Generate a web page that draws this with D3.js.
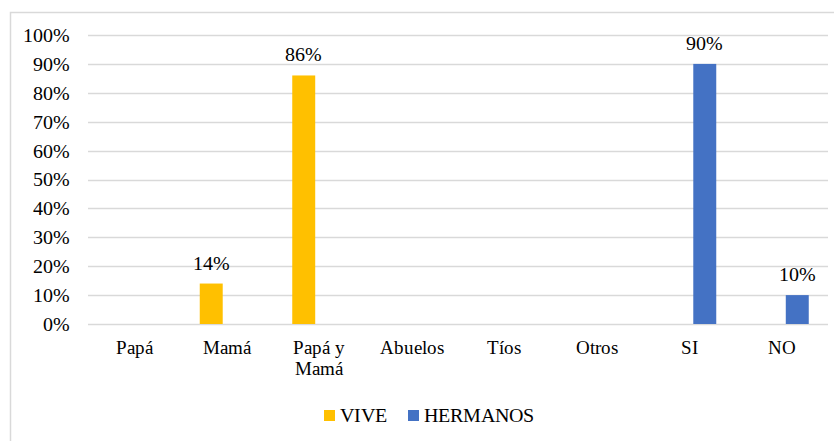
<!DOCTYPE html>
<html><head><meta charset="utf-8">
<script src="https://cdn.jsdelivr.net/npm/d3@7"></script>
<style>
@font-face{font-family:"SerifLocal";src:local("Liberation Serif"),local("LiberationSerif"),local("LiberationSerif-Regular"),local("Times New Roman"),local("DejaVu Serif"),local("DejaVuSerif"),local("Noto Serif"),local("NotoSerif-Regular");}
body{margin:0;background:#fff}
svg text{font-family:"SerifLocal","Liberation Serif","Times New Roman","DejaVu Serif",serif !important}
</style>
</head><body><svg id="c" width="834" height="441"></svg>
<script>
const categories = ["Papá","Mamá","Papá y\nMamá","Abuelos","Tíos","Otros","SI","NO"];
const seriesNames = ["VIVE","HERMANOS"];
const viveValues = [0, 0.14, 0.86, 0, 0, 0, null, null];
const hermanosValues = [null, null, null, null, null, null, 0.90, 0.10];
const colors = ["#FFC000","#4472C4"];
const yTicks = [0,0.1,0.2,0.3,0.4,0.5,0.6,0.7,0.8,0.9,1.0];

const svg = d3.select("#c");
const W = 834, H = 441;
const m = {left: 88, right: 6, top: 35, bottom: 117};

svg.append("rect").attr("x",10.5).attr("y",12.5).attr("width",W+20).attr("height",H+20)
  .attr("fill","#fff").attr("stroke","#D9D9D9").attr("stroke-width",1.5);

const x = d3.scaleBand().domain(categories).range([m.left, W-m.right]);
const xs = d3.scaleBand().domain(seriesNames).range([x.bandwidth()/2-27, x.bandwidth()/2+27]).paddingInner(0.26);
const y = d3.scaleLinear().domain([0,1]).range([H-m.bottom, m.top]);

// gridlines
svg.append("g").selectAll("line").data(yTicks).join("line")
  .attr("x1",m.left).attr("x2",W-m.right)
  .attr("y1",d=>Math.round(y(d))+0.5).attr("y2",d=>Math.round(y(d))+0.5)
  .attr("stroke","#D9D9D9").attr("stroke-width",1.3);

// y axis
const yAxis = d3.axisLeft(y).tickValues(yTicks).tickFormat(d3.format(".0%")).tickSize(0).tickPadding(18);
const gy = svg.append("g").attr("transform",`translate(${m.left},0)`).call(yAxis);
gy.attr("font-family",null).attr("font-size",null);
gy.select(".domain").remove();
gy.selectAll("text").attr("font-size",20).attr("fill","#000");

// x axis
const xAxis = d3.axisBottom(x).tickSize(0).tickPadding(0).tickFormat("");
const gx = svg.append("g").attr("transform",`translate(0,${H-m.bottom})`).call(xAxis);
gx.attr("font-family",null).attr("font-size",null);
gx.select(".domain").remove();
gx.selectAll(".tick").each(function(d){
  const lines = d.split("\n");
  const t = d3.select(this).append("text").attr("text-anchor","middle").attr("fill","#000")
    .attr("font-size",18.5);
  lines.forEach((l,i)=>t.append("tspan").attr("x",0).attr("y",30+i*21).text(l));
});

const data = [viveValues, hermanosValues];
const fmt = d3.format(".0%");
data.forEach((vals,si)=>{
  const g = svg.append("g");
  const items = vals.map((v,i)=>({v, c:categories[i]})).filter(d=>d.v!==null && d.v>0);
  g.selectAll("rect").data(items).join("rect")
    .attr("x",d=>x(d.c)+xs(seriesNames[si]))
    .attr("width",xs.bandwidth())
    .attr("y",d=>y(d.v)).attr("height",d=>y(0)-y(d.v))
    .attr("fill",colors[si]);
  g.selectAll("text").data(items).join("text")
    .attr("x",d=>x(d.c)+xs(seriesNames[si])+xs.bandwidth()/2)
    .attr("y",d=>y(d.v)-14)
    .attr("text-anchor","middle").attr("font-size",20).attr("fill","#000")
    .text(d=>fmt(d.v));
});

// legend
const leg = svg.append("g");
const legItems = [{n:"VIVE",x:324},{n:"HERMANOS",x:408}];
legItems.forEach((it,i)=>{
  leg.append("rect").attr("x",it.x).attr("y",410).attr("width",11).attr("height",11).attr("fill",colors[i]);
  leg.append("text").attr("x",it.x+16).attr("y",422).attr("font-size",20).attr("fill","#000").text(it.n);
});
</script></body></html>
